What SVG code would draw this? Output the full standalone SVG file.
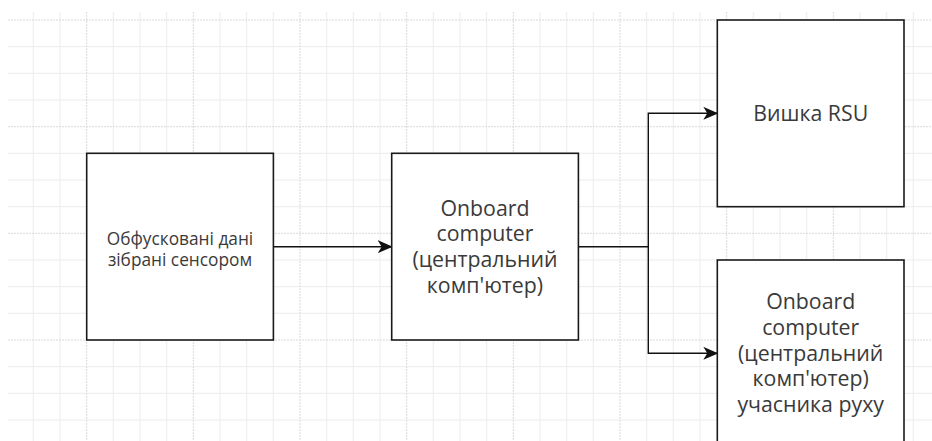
<svg xmlns="http://www.w3.org/2000/svg" width="932" height="441" viewBox="0 0 932 441">
  <style>
    .minor { stroke: #ececec; stroke-width: 1; }
    .major { stroke: #d9d9d9; stroke-width: 1; stroke-dasharray: 2 1; }
    .box { fill: #ffffff; stroke: #1a1a1a; stroke-width: 1.6; }
    .lbl { font-family: "Open Sans", "Noto Sans", sans-serif; fill: #3a3a3a; text-anchor: middle; }
    .s16 { font-size: 17.3px; }
    .s21 { font-size: 21.3px; }
    .edge { fill: none; stroke: #111111; stroke-width: 1.4; }
  </style>
  <defs>
    <marker id="arrow" markerUnits="userSpaceOnUse" markerWidth="15" markerHeight="13" viewBox="0 0 15 13" refX="14" refY="6.5" orient="auto">
      <path d="M0,0 L15,6.5 L0,13 L4,6.5 Z" fill="#111111"/>
    </marker>
  </defs>
  <rect x="0" y="0" width="932" height="441" fill="#ffffff"/>
  <g id="grid">
    <g class="minor">
      <line x1="33.3" y1="12" x2="33.3" y2="441"/>
      <line x1="60" y1="12" x2="60" y2="441"/>
      <line x1="113.3" y1="12" x2="113.3" y2="441"/>
      <line x1="140" y1="12" x2="140" y2="441"/>
      <line x1="166.7" y1="12" x2="166.7" y2="441"/>
      <line x1="220" y1="12" x2="220" y2="441"/>
      <line x1="246.7" y1="12" x2="246.7" y2="441"/>
      <line x1="273.3" y1="12" x2="273.3" y2="441"/>
      <line x1="326.7" y1="12" x2="326.7" y2="441"/>
      <line x1="353.3" y1="12" x2="353.3" y2="441"/>
      <line x1="380" y1="12" x2="380" y2="441"/>
      <line x1="433.3" y1="12" x2="433.3" y2="441"/>
      <line x1="460" y1="12" x2="460" y2="441"/>
      <line x1="486.7" y1="12" x2="486.7" y2="441"/>
      <line x1="540" y1="12" x2="540" y2="441"/>
      <line x1="566.7" y1="12" x2="566.7" y2="441"/>
      <line x1="593.3" y1="12" x2="593.3" y2="441"/>
      <line x1="646.7" y1="12" x2="646.7" y2="441"/>
      <line x1="673.3" y1="12" x2="673.3" y2="441"/>
      <line x1="700" y1="12" x2="700" y2="441"/>
      <line x1="753.3" y1="12" x2="753.3" y2="441"/>
      <line x1="780" y1="12" x2="780" y2="441"/>
      <line x1="806.7" y1="12" x2="806.7" y2="441"/>
      <line x1="860" y1="12" x2="860" y2="441"/>
      <line x1="886.7" y1="12" x2="886.7" y2="441"/>
      <line x1="913.3" y1="12" x2="913.3" y2="441"/>
      <line x1="8" y1="46.7" x2="932" y2="46.7"/>
      <line x1="8" y1="73.3" x2="932" y2="73.3"/>
      <line x1="8" y1="100" x2="932" y2="100"/>
      <line x1="8" y1="153.3" x2="932" y2="153.3"/>
      <line x1="8" y1="180" x2="932" y2="180"/>
      <line x1="8" y1="206.7" x2="932" y2="206.7"/>
      <line x1="8" y1="260" x2="932" y2="260"/>
      <line x1="8" y1="286.7" x2="932" y2="286.7"/>
      <line x1="8" y1="313.3" x2="932" y2="313.3"/>
      <line x1="8" y1="366.7" x2="932" y2="366.7"/>
      <line x1="8" y1="393.3" x2="932" y2="393.3"/>
      <line x1="8" y1="420" x2="932" y2="420"/>
    </g>
    <g class="major">
      <line x1="86.7" y1="12" x2="86.7" y2="441"/>
      <line x1="193.3" y1="12" x2="193.3" y2="441"/>
      <line x1="300" y1="12" x2="300" y2="441"/>
      <line x1="406.7" y1="12" x2="406.7" y2="441"/>
      <line x1="513.3" y1="12" x2="513.3" y2="441"/>
      <line x1="620" y1="12" x2="620" y2="441"/>
      <line x1="726.7" y1="12" x2="726.7" y2="441"/>
      <line x1="833.3" y1="12" x2="833.3" y2="441"/>
      <line x1="8" y1="20" x2="932" y2="20"/>
      <line x1="8" y1="126.7" x2="932" y2="126.7"/>
      <line x1="8" y1="233.3" x2="932" y2="233.3"/>
      <line x1="8" y1="340" x2="932" y2="340"/>
    </g>
  </g>
  <g id="connectors">
    <path class="edge" d="M273.3,246.7 H391.7" marker-end="url(#arrow)"/>
    <path class="edge" d="M578.3,246.7 H648.3 V113.3 H717.3" marker-end="url(#arrow)"/>
    <path class="edge" d="M648.3,246.7 V353.3 H717.3" marker-end="url(#arrow)"/>
  </g>
  <g id="node-sensor">
    <rect class="box" x="86.7" y="153.3" width="186.7" height="186.7"/>
    <text class="lbl s16"><tspan x="180" y="245">Обфусковані дані</tspan><tspan x="180" y="265.6">зібрані сенсором</tspan></text>
  </g>
  <g id="node-onboard">
    <rect class="box" x="391.7" y="153.3" width="186.7" height="186.7"/>
    <text class="lbl s21"><tspan x="485" y="215.8">Onboard</tspan><tspan x="485" y="241.4">computer</tspan><tspan x="485" y="267">(центральний</tspan><tspan x="485" y="292.6">комп'ютер)</tspan></text>
  </g>
  <g id="node-rsu">
    <rect class="box" x="717.3" y="20" width="186.7" height="186.7"/>
    <text class="lbl s21"><tspan x="810.7" y="120.5">Вишка RSU</tspan></text>
  </g>
  <g id="node-participant">
    <rect class="box" x="717.3" y="260" width="186.7" height="186.7"/>
    <text class="lbl s21"><tspan x="810.7" y="309.4">Onboard</tspan><tspan x="810.7" y="335">computer</tspan><tspan x="810.7" y="360.6">(центральний</tspan><tspan x="810.7" y="386.2">комп'ютер)</tspan><tspan x="810.7" y="411.8">учасника руху</tspan></text>
  </g>
</svg>
